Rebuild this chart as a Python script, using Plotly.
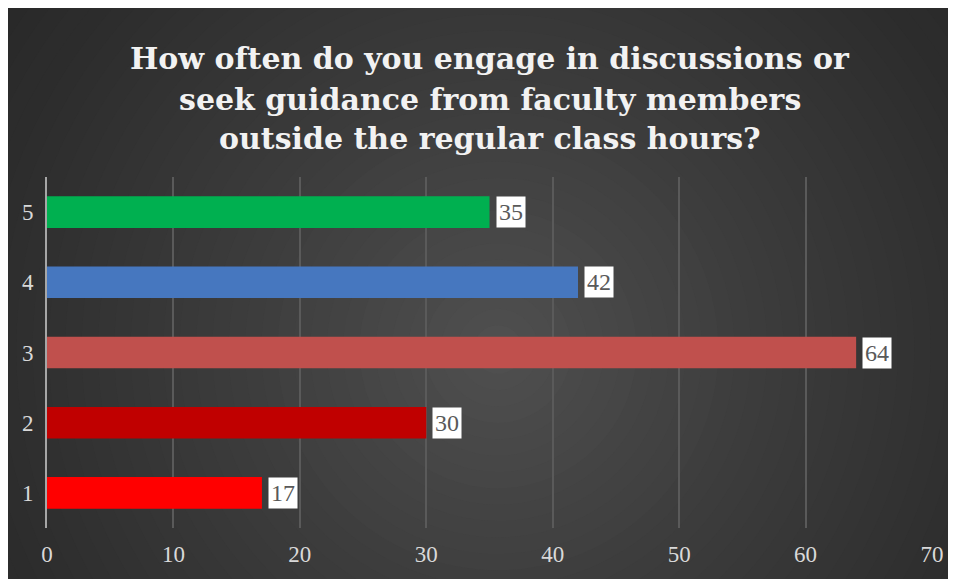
import plotly.graph_objects as go

categories = [1, 2, 3, 4, 5]
values = [17, 30, 64, 42, 35]
bar_colors = ["#ff0000", "#c00000", "#c0504d", "#4677bf", "#00b050"]
x_ticks = [0, 10, 20, 30, 40, 50, 60, 70]
title_lines = ["How often do you engage in discussions or",
               "seek guidance from faculty members",
               "outside the regular class hours?"]

OFF = 8  # page body margin
W, H = 956 - OFF, 579 - OFF
L, R, T, B = 47 - OFF, 936 - OFF, 177 - OFF, 529 - OFF
ml, mr, mt, mb = L, W - R, T, H - B
pw, ph = R - L, B - T


def px2x(px):
    return (px - L) / pw


def px2y(py):
    return (B - py) / ph


shapes = []
cx, cy = 500 - OFF, 350 - OFF
n = 40
rmax = 640
c_out = (40, 40, 40)
c_in = (80, 80, 80)
for i in range(n):
    t = i / (n - 1)
    r = rmax * (1 - t) + 8
    col = tuple(int(round(c_out[k] + (c_in[k] - c_out[k]) * (t ** 1.3))) for k in range(3))
    shapes.append(dict(type="circle", xref="paper", yref="paper", layer="below",
                       x0=px2x(cx - r), x1=px2x(cx + r),
                       y0=px2y(cy + r), y1=px2y(cy - r),
                       fillcolor="rgb(%d,%d,%d)" % col, line=dict(width=0)))

fig = go.Figure()
fig.add_trace(go.Bar(
    x=values, y=categories, orientation="h", width=0.45,
    marker=dict(color=bar_colors, line=dict(width=0)),
    hoverinfo="skip", showlegend=False,
))

annotations = []
for v, c in zip(values, categories):
    annotations.append(dict(
        x=v, y=c, xref="x", yref="y", text=str(v), showarrow=False,
        xanchor="left", yanchor="middle", xshift=6,
        font=dict(family="Liberation Serif", size=24, color="#595959"),
        bgcolor="white", borderpad=2,
    ))

for line, ypx in zip(title_lines, [58, 99, 138]):
    annotations.append(dict(
        x=0.5, xref="paper", y=px2y(ypx - OFF), yref="paper",
        text=line, showarrow=False,
        xanchor="center", yanchor="middle",
        font=dict(family="DejaVu Serif", size=30, color="#f2f2f2", weight="bold"),
    ))

fig.update_layout(
    width=W, height=H,
    margin=dict(l=ml, r=mr, t=mt, b=mb, pad=0),
    paper_bgcolor="#2a2a2a", plot_bgcolor="rgba(0,0,0,0)",
    shapes=shapes, annotations=annotations,
    xaxis=dict(range=[0, 70], tickvals=x_ticks, showgrid=True,
               gridcolor="#5a5a5a", gridwidth=1.5, zeroline=False,
               showline=False, ticks="", fixedrange=True, ticklabelstandoff=10,
               tickfont=dict(family="Liberation Serif", size=23, color="#d9d9d9")),
    yaxis=dict(range=[0.5, 5.5], tickvals=categories, showgrid=False,
               zeroline=False, showline=True, linecolor="#a6a6a6", linewidth=2,
               ticks="", ticklabelstandoff=7, fixedrange=True,
               tickfont=dict(family="Liberation Serif", size=23, color="#d9d9d9")),
)

fig.write_html("out.html")
